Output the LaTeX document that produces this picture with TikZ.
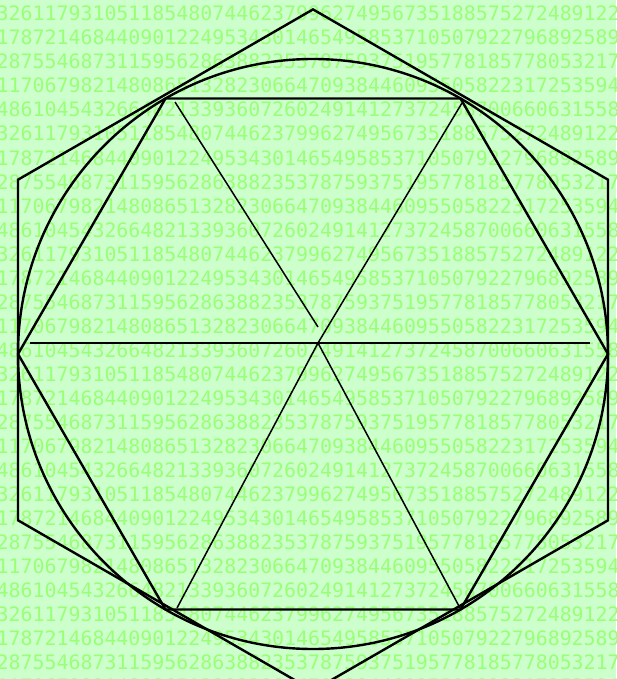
\documentclass[tikz,border=0pt]{standalone}
\usepackage{fontspec}
\setmonofont{DejaVu Sans Mono}
\usepackage{tikz}
\definecolor{blass}{HTML}{CCFFCC}
\definecolor{ziffer}{HTML}{99FF77}
\begin{document}
\begin{tikzpicture}[x=1pt,y=-1pt,
  reihe/.style={ziffer,anchor=base west,inner sep=0pt,font=\ttfamily\fontsize{19.9}{24}\selectfont},
  dick/.style={black,line width=2.4pt},
  duenn/.style={black,line width=1.5pt}]
  \useasboundingbox (0,0) rectangle (616,679);
  \clip (0,0) rectangle (616,679);
  \fill[blass] (0,0) rectangle (616,679);
  \foreach \k in {0,...,5}{
    \node[reihe] at (-3.5,21+120*\k) {3261179310511854807446237996274956735188575272489122793818};
    \node[reihe] at (-3.5,45+120*\k) {1787214684409012249534301465495853710507922796892589235420};
    \node[reihe] at (-3.5,69+120*\k) {2875546873115956286388235378759375195778185778053217122680};
    \node[reihe] at (-3.5,93+120*\k) {1170679821480865132823066470938446095505822317253594081284};
    \node[reihe] at (-3.5,117+120*\k) {4861045432664821339360726024914127372458700660631558817488};
  }
  \draw[dick] (313,9.4)--(18,179.7)--(18,520.3)--(313,690.6)--(608,520.3)--(608,179.7)--cycle;
  \draw[dick] (608,354)--(460.5,98.5)--(165.5,98.5)--(18,354)--(165.5,609.5)--(460.5,609.5)--cycle;
  \draw[dick] (313,354) circle (295);
  \coordinate (m) at (318,343);
  \draw[duenn] (30,343)--(590,343);
  \draw[duenn] (175,102)--(318,327);
  \draw[duenn] (m)--(462,103);
  \draw[duenn] (m)--(177,608);
  \draw[duenn] (m)--(460,608);
\end{tikzpicture}
\end{document}
